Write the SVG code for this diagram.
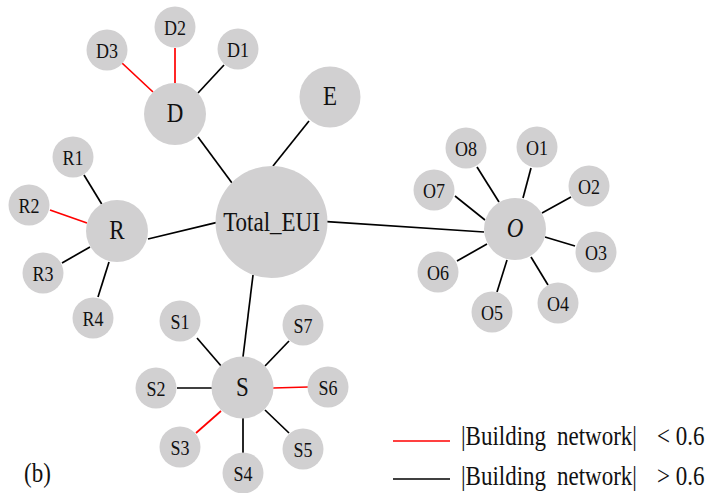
<svg xmlns="http://www.w3.org/2000/svg" width="712" height="493" viewBox="0 0 712 493">
<style>
.n{fill:#d1d0d1;stroke:none}
.t{font-family:"Liberation Serif","Times New Roman",serif;fill:#111;text-anchor:middle}
.s{font-size:18px}
.m{font-size:23px}
.e{stroke:#000;stroke-width:1.7;fill:none}
.r{stroke:#f00;stroke-width:1.7;fill:none}
.lg{font-family:"Liberation Serif","Times New Roman",serif;font-size:23px;fill:#111}
</style>
<rect width="712" height="493" fill="#fff"/>
<g id="connectors">
<line class="e" x1="198" y1="137" x2="232" y2="183"/>
<line class="e" x1="309" y1="121" x2="273" y2="166"/>
<line class="e" x1="148" y1="239" x2="216" y2="222.7"/>
<line class="e" x1="327" y1="221.7" x2="484" y2="232"/>
<line class="e" x1="253" y1="275" x2="243" y2="357"/>
<line class="r" x1="122" y1="63" x2="153" y2="92"/>
<line class="r" x1="175" y1="48" x2="175" y2="83"/>
<line class="e" x1="224" y1="65" x2="198" y2="93"/>
<line class="e" x1="84" y1="175" x2="101.7" y2="204"/>
<line class="r" x1="50" y1="210" x2="87" y2="223"/>
<line class="e" x1="62" y1="263" x2="90" y2="247"/>
<line class="e" x1="98" y1="297" x2="109" y2="262"/>
<line class="e" x1="197" y1="338" x2="222" y2="367"/>
<line class="e" x1="289" y1="341" x2="265" y2="366"/>
<line class="e" x1="177" y1="388" x2="212" y2="388"/>
<line class="r" x1="273" y1="388" x2="308" y2="387"/>
<line class="r" x1="196" y1="433" x2="221" y2="411"/>
<line class="e" x1="243" y1="418" x2="243" y2="453"/>
<line class="e" x1="265" y1="410" x2="289" y2="433"/>
<line class="e" x1="477" y1="167" x2="499" y2="202"/>
<line class="e" x1="531" y1="168" x2="523" y2="198"/>
<line class="e" x1="571" y1="197" x2="542" y2="213"/>
<line class="e" x1="455" y1="196" x2="485" y2="220"/>
<line class="e" x1="575" y1="246" x2="545" y2="237"/>
<line class="e" x1="457" y1="261" x2="487" y2="244"/>
<line class="e" x1="497" y1="292" x2="507" y2="260"/>
<line class="e" x1="548" y1="285" x2="531" y2="257"/>
</g>
<g id="Total_EUI"><circle class="n" cx="271.5" cy="222" r="56"/><text class="t m" transform="translate(271.5 231) scale(1 1.18)">Total_EUI</text></g>
<g id="D"><circle class="n" cx="175" cy="114" r="31"/><text class="t m" transform="translate(175 122) scale(1 1.18)">D</text></g>
<g id="D1"><circle class="n" cx="238" cy="49" r="20.5"/><text class="t s" transform="translate(238 57) scale(1 1.18)">D1</text></g>
<g id="D2"><circle class="n" cx="175" cy="27" r="20.5"/><text class="t s" transform="translate(175 35) scale(1 1.18)">D2</text></g>
<g id="D3"><circle class="n" cx="107" cy="50" r="20.5"/><text class="t s" transform="translate(107 58) scale(1 1.18)">D3</text></g>
<g id="E"><circle class="n" cx="330" cy="97" r="30.5"/><text class="t m" transform="translate(330 105) scale(1 1.18)">E</text></g>
<g id="R"><circle class="n" cx="117" cy="231" r="31"/><text class="t m" transform="translate(117 239) scale(1 1.18)">R</text></g>
<g id="R1"><circle class="n" cx="73" cy="157" r="20.5"/><text class="t s" transform="translate(73 165) scale(1 1.18)">R1</text></g>
<g id="R2"><circle class="n" cx="29" cy="205" r="20.5"/><text class="t s" transform="translate(29 213) scale(1 1.18)">R2</text></g>
<g id="R3"><circle class="n" cx="43" cy="273" r="20.5"/><text class="t s" transform="translate(43 281) scale(1 1.18)">R3</text></g>
<g id="R4"><circle class="n" cx="93" cy="318" r="20.5"/><text class="t s" transform="translate(93 326) scale(1 1.18)">R4</text></g>
<g id="O"><circle class="n" cx="515" cy="229" r="31"/><text class="t m" font-style="italic" transform="translate(515 237) scale(1 1.18)">O</text></g>
<g id="O1"><circle class="n" cx="537" cy="147" r="20.5"/><text class="t s" transform="translate(537 155) scale(1 1.18)">O1</text></g>
<g id="O2"><circle class="n" cx="589" cy="186" r="20.5"/><text class="t s" transform="translate(589 194) scale(1 1.18)">O2</text></g>
<g id="O3"><circle class="n" cx="596" cy="252" r="20.5"/><text class="t s" transform="translate(596 260) scale(1 1.18)">O3</text></g>
<g id="O4"><circle class="n" cx="558" cy="303" r="20.5"/><text class="t s" transform="translate(558 311) scale(1 1.18)">O4</text></g>
<g id="O5"><circle class="n" cx="492" cy="312" r="20.5"/><text class="t s" transform="translate(492 320) scale(1 1.18)">O5</text></g>
<g id="O6"><circle class="n" cx="438" cy="272" r="20.5"/><text class="t s" transform="translate(438 280) scale(1 1.18)">O6</text></g>
<g id="O7"><circle class="n" cx="434" cy="190" r="20.5"/><text class="t s" transform="translate(434 198) scale(1 1.18)">O7</text></g>
<g id="O8"><circle class="n" cx="466" cy="148" r="20.5"/><text class="t s" transform="translate(466 156) scale(1 1.18)">O8</text></g>
<g id="S"><circle class="n" cx="242.5" cy="387.5" r="31"/><text class="t m" transform="translate(242.5 396) scale(1 1.18)">S</text></g>
<g id="S1"><circle class="n" cx="180" cy="321" r="20.5"/><text class="t s" transform="translate(180 329) scale(1 1.18)">S1</text></g>
<g id="S2"><circle class="n" cx="156" cy="388" r="20.5"/><text class="t s" transform="translate(156 396) scale(1 1.18)">S2</text></g>
<g id="S3"><circle class="n" cx="180" cy="447" r="20.5"/><text class="t s" transform="translate(180 455) scale(1 1.18)">S3</text></g>
<g id="S4"><circle class="n" cx="243" cy="473" r="20.5"/><text class="t s" transform="translate(243 481) scale(1 1.18)">S4</text></g>
<g id="S5"><circle class="n" cx="303" cy="449" r="20.5"/><text class="t s" transform="translate(303 457) scale(1 1.18)">S5</text></g>
<g id="S6"><circle class="n" cx="328" cy="387" r="20.5"/><text class="t s" transform="translate(328 395) scale(1 1.18)">S6</text></g>
<g id="S7"><circle class="n" cx="303" cy="325" r="20.5"/><text class="t s" transform="translate(303 333) scale(1 1.18)">S7</text></g>
<g id="legend">
<line class="r" x1="393" y1="441" x2="450" y2="441"/>
<line class="e" x1="393" y1="479" x2="450" y2="479"/>
<text class="lg" transform="translate(461 445) scale(1 1.18)">|Building</text>
<text class="lg" transform="translate(557 445) scale(1 1.18)">network|</text>
<text class="lg" transform="translate(657 445) scale(1 1.18)">&lt; 0.6</text>
<text class="lg" transform="translate(461 485) scale(1 1.18)">|Building</text>
<text class="lg" transform="translate(557 485) scale(1 1.18)">network|</text>
<text class="lg" transform="translate(657 485) scale(1 1.18)">&gt; 0.6</text>
</g>
<text class="lg" transform="translate(24 482) scale(1 1.18)">(b)</text>
</svg>
